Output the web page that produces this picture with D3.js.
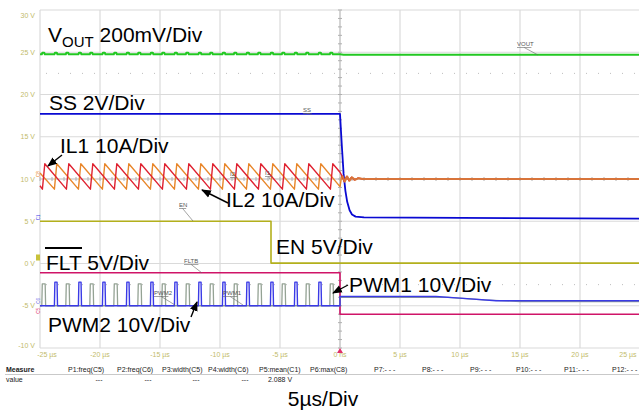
<!DOCTYPE html>
<html><head><meta charset="utf-8">
<script src="https://cdn.jsdelivr.net/npm/d3@7"></script>
<style>body{margin:0;background:#fff}svg{display:block}</style>
</head><body>
<svg id="c" width="639" height="410"></svg>
<script>
// ---- data (screen volts vs time in µs) ----
const timeTicks = [-25,-20,-15,-10,-5,0,5,10,15,20,25];
const timeLabels = ["-25 µs","-20 µs","-15 µs","-10 µs","-5 µs","0 ns","5 µs","10 µs","15 µs","20 µs","25 µs"];
const voltTicks = [30,25,20,15,10,5,0,-5,-10];
const voltLabels = ["30 V","25 V","20 V","15 V","10 V","5 V","0 V","-5 V","-10 V"];

const il1Peaks = [-24.6,-22.6,-20.6,-18.6,-16.6,-14.6,-12.6,-10.6,-8.6,-6.6,-4.6,-2.6,-0.6];
const il2Peaks = [-23.6,-21.6,-19.6,-17.6,-15.6,-13.6,-11.6,-9.6,-7.6,-5.6,-3.6,-1.6];
const ilHigh = 11.8, ilLow = 8.8;
const il1Start = 9.2, il2Start = 10.7;
const il1AtZero = 10.8, il2AtZero = 9.1;
const ilRing = [[0.15,10.4],[0.35,9.7],[0.55,10.3],[0.75,9.8],[0.95,10.2],[1.2,9.9],[1.5,10.1],[1.9,10.0],[25,10.0]];

const pwm1Starts = [-24.85,-22.85,-20.85,-18.85,-16.85,-14.85,-12.85,-10.85,-8.85,-6.85,-4.85,-2.85,-0.85];
const pwm2Starts = [-23.8,-21.8,-19.8,-17.8,-15.8,-13.8,-11.8,-9.8,-7.8,-5.8,-3.8,-1.8];
const pwmBase = -5.0, pwm1Top = -2.4, pwm2Top = -2.2;
const pwm1After = [[0,-5.0],[0,-4.0],[9,-4.0],[12,-4.3],[15,-4.5],[25,-4.5]];
const pwm2After = [[0,-5.0],[0,-3.9],[8,-3.9],[10,-4.1],[13,-4.4],[25,-4.4]];

const voutLevel = 24.75, voutBump = 24.95, voutAfter = 24.7;
const ssPoints = [[-25,17.7],[0,17.7],[0.15,14.0],[0.3,10.6],[0.45,8.6],[0.6,7.3],[0.8,6.3],[1.0,5.8],[1.3,5.55],[2,5.45],[25,5.3]];
const enPoints = [[-25,5.0],[-5.75,5.0],[-5.75,0.05],[25,0.05]];
const fltPoints = [[-25,-1.1],[0,-1.1],[0,-6.0],[25,-6.0]];

const measureHeads = ["P1:freq(C5)","P2:freq(C6)","P3:width(C5)","P4:width(C6)","P5:mean(C1)","P6:max(C8)","P7:- - -","P8:- - -","P9:- - -","P10:- - -","P11:- - -","P12:- - -"];
const measureVals = ["---","---","---","---","2.088 V","","","","","","",""];

// ---- layout ----
const svg = d3.select("#c");
const x = d3.scaleLinear().domain([-25,25]).range([40,640]);
const y = d3.scaleLinear().domain([-10,30]).range([348,10]);
const line = d3.line().x(d=>x(d[0])).y(d=>y(d[1]));
const FONT = "'Liberation Sans', Arial, sans-serif";
const tickCol = "#c2bb6a";

// grid
const g = svg.append("g");
g.selectAll("line.v").data(timeTicks).join("line")
  .attr("x1",d=>x(d)).attr("x2",d=>x(d)).attr("y1",y(30)).attr("y2",y(-10))
  .attr("stroke",d=>d===0?"#b8b8b8":"#dadada").attr("stroke-width",1.2);
g.selectAll("line.h").data(voltTicks).join("line")
  .attr("x1",x(-25)).attr("x2",x(25)).attr("y1",d=>y(d)).attr("y2",d=>y(d))
  .attr("stroke",d=>d===10?"#b8b8b8":"#dadada").attr("stroke-width",1.2);
// center axis minor ticks
const minorT = d3.range(-25,25.01,1);
g.selectAll("line.mt").data(minorT).join("line")
  .attr("x1",d=>x(d)).attr("x2",d=>x(d)).attr("y1",y(10)-2).attr("y2",y(10)+2)
  .attr("stroke","#b0b0b0").attr("stroke-width",1);
const minorV = d3.range(-10,30.01,1);
g.selectAll("line.mv").data(minorV).join("line")
  .attr("x1",x(0)-2).attr("x2",x(0)+2).attr("y1",d=>y(d)).attr("y2",d=>y(d))
  .attr("stroke","#b0b0b0").attr("stroke-width",1);
// dotted reference lines
[22.5,-2.5].forEach(v=>{
  g.append("line").attr("x1",x(-25)+6).attr("x2",x(25)).attr("y1",y(v)).attr("y2",y(v))
   .attr("stroke","#bdbdbd").attr("stroke-width",1).attr("stroke-dasharray","1,11");
});

// tick labels
svg.append("g").selectAll("text").data(voltTicks).join("text")
  .attr("x",35).attr("y",d=>Math.max(15,Math.min(345,y(d)))+2.5)
  .attr("text-anchor","end").attr("font-family",FONT).attr("font-size",7)
  .attr("fill",tickCol).text((d,i)=>voltLabels[i]);
svg.append("g").selectAll("text").data(timeTicks).join("text")
  .attr("x",d=>Math.max(47,Math.min(628,x(d)))).attr("y",357)
  .attr("text-anchor","middle").attr("font-family",FONT).attr("font-size",7)
  .attr("fill",tickCol).text((d,i)=>timeLabels[i]);
// trigger marker
svg.append("path").attr("d",`M${x(0)-3},${y(-10)+5}L${x(0)+3},${y(-10)+5}L${x(0)},${y(-10)}Z`).attr("fill","#e0306a");

// ---- traces ----
const T = svg.append("g").attr("fill","none").attr("stroke-linejoin","round");

// EN
T.append("path").attr("d",line(enPoints)).attr("stroke","#b3b01c").attr("stroke-width",1.6);
// FLT
T.append("path").attr("d",line(fltPoints)).attr("stroke","#cf1468").attr("stroke-width",1.6);

// VOUT with small bumps at each switching pulse
const bumps = pwm1Starts.concat(pwm2Starts).sort((a,b)=>a-b);
const vout = [[-25,voutLevel]];
bumps.forEach(t=>{ vout.push([t,voutLevel],[t+0.05,voutBump],[t+0.2,voutBump],[t+0.25,voutLevel]); });
vout.push([0,voutLevel],[0.3,voutAfter],[25,voutAfter]);
T.append("path").attr("d",line(vout)).attr("stroke","#22c822").attr("stroke-width",2);

// SS
T.append("path").attr("d",line(ssPoints)).attr("stroke","#0a0ad2").attr("stroke-width",1.8);

// PWM1 (gray) and PWM2 (blue)
function pulses(starts, w, top, after){
  const pts=[[-25,pwmBase]];
  starts.forEach(t=>{ pts.push([t,pwmBase],[t+0.04,top],[t+w-0.04,top],[t+w,pwmBase]); });
  return pts.concat(after);
}
T.append("path").attr("d",line(pulses(pwm1Starts,0.32,pwm1Top,pwm1After))).attr("stroke","#94a294").attr("stroke-width",1.3);
T.append("path").attr("d",line(pulses(pwm2Starts,0.26,pwm2Top,pwm2After))).attr("stroke","#3a3ae6").attr("stroke-width",1.4);

// IL1, IL2 sawtooth
function saw(start, peaks, atZero){
  const pts=[[-25,start]];
  peaks.forEach(p=>{ pts.push([p-0.2,ilLow],[p,ilHigh]); });
  pts.push([0,atZero]);
  return pts.concat(ilRing);
}
const il2 = saw(il2Start, il2Peaks, il2AtZero);
const il1 = saw(il1Start, il1Peaks, il1AtZero);
T.append("path").attr("d",line(il2)).attr("stroke","#e8862a").attr("stroke-width",1.4);
T.append("path").attr("d",line(il1)).attr("stroke","#df2230").attr("stroke-width",1.4);
T.append("path").attr("d",line(ilRing.map(d=>[d[0]+0.05,d[1]]))).attr("stroke","#d8743a").attr("stroke-width",2);

// ---- channel badges on left (tiny, vertical, right of tick labels) ----
const badge = svg.append("g").attr("font-family",FONT).attr("font-size",4.5);
function vbadge(v, dy, col, txt){
  badge.append("text").attr("transform",`translate(39.5,${y(v)+dy}) rotate(-90)`)
    .attr("fill",col).attr("text-anchor","middle").text(txt);
}
vbadge(10,-5,"#e8862a","C8");
vbadge(5,-4,"#3a3ae6","C1");
badge.append("rect").attr("x",36).attr("y",y(0)-9).attr("width",4).attr("height",6).attr("fill","#c8c23a");
vbadge(-5,-5,"#6a6ae8","C6");
vbadge(-5,5,"#e0306a","C5");

// ---- small trace labels with leader lines ----
const small = [
  {t:"VOUT",x:517,y:46,lx:538,ly:55},
  {t:"SS",x:303,y:112,lx:312,ly:114},
  {t:"EN",x:179,y:207,lx:193,ly:221},
  {t:"FLTB",x:184,y:263,lx:202,ly:273},
  {t:"PWM2",x:154,y:295,lx:175,ly:305},
  {t:"PWM1",x:223,y:295,lx:243,ly:305},
  {t:"I2",x:230,y:176,lx:236,ly:179},
  {t:"I1",x:265,y:175,lx:270,ly:179}
];
const sg = svg.append("g").attr("font-family",FONT).attr("font-size",6);
small.forEach(s=>{
  sg.append("text").attr("x",s.x).attr("y",s.y).attr("fill","#555").text(s.t);
  const w = s.t.length*3.6;
  sg.append("line").attr("x1",s.x).attr("x2",s.x+w).attr("y1",s.y+1.5).attr("y2",s.y+1.5).attr("stroke","#666").attr("stroke-width",0.6);
  sg.append("line").attr("x1",s.x+w*0.5).attr("y1",s.y+1.5).attr("x2",s.lx).attr("y2",s.ly).attr("stroke","#666").attr("stroke-width",0.6);
});

// ---- big annotations ----
const A = svg.append("g").attr("font-family",FONT).attr("font-size",21).attr("fill","#000");
const vt = A.append("text").attr("x",48).attr("y",42);
vt.append("tspan").text("V");
vt.append("tspan").attr("font-size",15).attr("dy",5).text("OUT");
vt.append("tspan").attr("dy",-5).text(" 200mV/Div");
A.append("text").attr("x",49).attr("y",110).text("SS 2V/Div");
A.append("text").attr("x",60).attr("y",153).text("IL1 10A/Div");
A.append("text").attr("x",226).attr("y",207).text("IL2 10A/Div");
A.append("text").attr("x",276).attr("y",254).text("EN 5V/Div");
A.append("text").attr("x",46).attr("y",270).text("FLT 5V/Div");
A.append("line").attr("x1",45).attr("x2",82).attr("y1",248).attr("y2",248).attr("stroke","#000").attr("stroke-width",2.2);
A.append("text").attr("x",349).attr("y",292).text("PWM1 10V/Div");
A.append("text").attr("x",48).attr("y",332).text("PWM2 10V/Div");
A.append("text").attr("x",323).attr("y",406).attr("text-anchor","middle").text("5µs/Div");

// arrows
const defs = svg.append("defs");
defs.append("marker").attr("id","ah").attr("viewBox","0 0 10 10").attr("refX",9).attr("refY",5)
  .attr("markerWidth",7).attr("markerHeight",7).attr("orient","auto")
  .append("path").attr("d","M0,1L10,5L0,9Z").attr("fill","#000");
const arrows = [[62,155,48,166],[228,203,202,190],[191,317,197,302],[348,285,333,293]];
svg.append("g").selectAll("line").data(arrows).join("line")
  .attr("x1",d=>d[0]).attr("y1",d=>d[1]).attr("x2",d=>d[2]).attr("y2",d=>d[3])
  .attr("stroke","#000").attr("stroke-width",1.4).attr("marker-end","url(#ah)");

// ---- measure table ----
const M = svg.append("g").attr("font-family",FONT).attr("font-size",7).attr("fill","#222");
M.append("text").attr("x",6).attr("y",372).attr("font-weight","bold").text("Measure");
M.append("text").attr("x",6).attr("y",382).text("value");
M.append("line").attr("x1",5).attr("x2",639).attr("y1",374.5).attr("y2",374.5).attr("stroke","#bbb").attr("stroke-width",0.8);
const colX = [68,117,162,208,259,310,374,422,470,516,564,612];
M.selectAll("text.h").data(measureHeads).join("text").attr("x",(d,i)=>colX[i]).attr("y",372).text(d=>d);
const valX = [99,148,196,245,280,0,0,0,0,0,0,0];
M.selectAll("text.v").data(measureVals).join("text").attr("x",(d,i)=>valX[i]).attr("y",382)
  .attr("text-anchor","middle").text(d=>d);
</script>
</body></html>
